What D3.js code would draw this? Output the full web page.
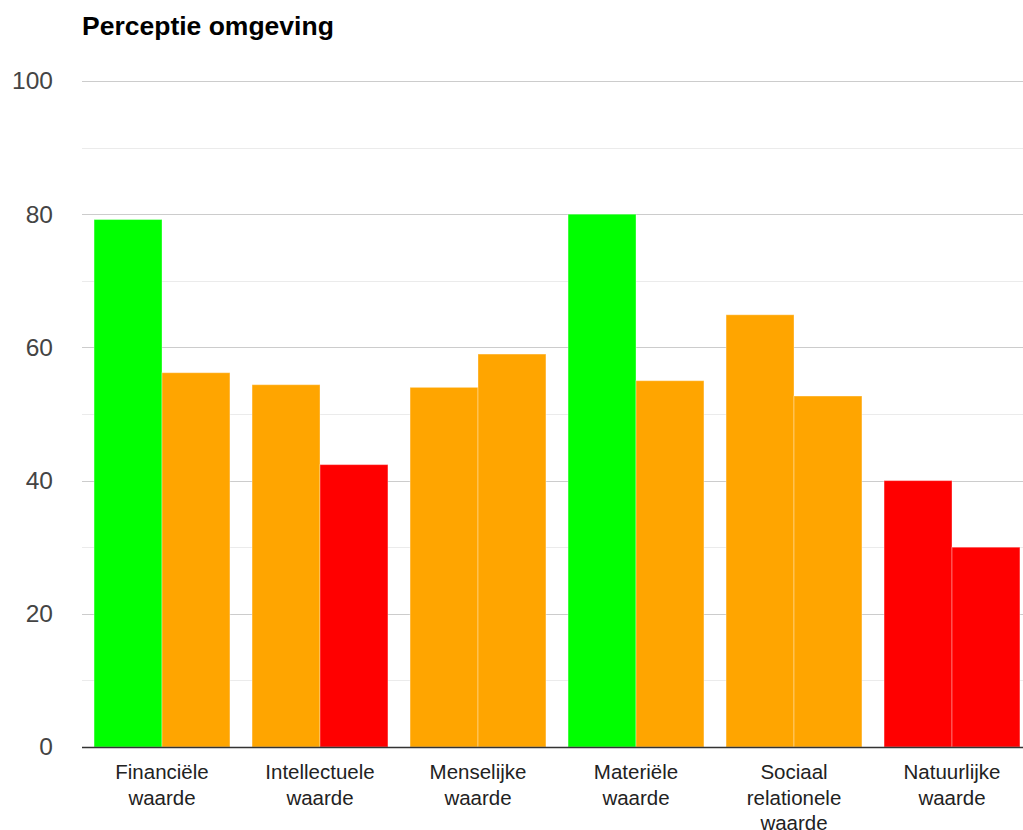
<!DOCTYPE html>
<html>
<head>
<meta charset="utf-8">
<script src="https://cdn.jsdelivr.net/npm/d3@7"></script>
<style>
  body { margin: 0; background: #fff; }
  svg { display: block; font-family: "Liberation Sans", Arial, sans-serif; }
</style>
</head>
<body>
<svg id="chart" width="1023" height="830"></svg>
<script>
const categories = [
  ["Financiële", "waarde"],
  ["Intellectuele", "waarde"],
  ["Menselijke", "waarde"],
  ["Materiële", "waarde"],
  ["Sociaal", "relationele", "waarde"],
  ["Natuurlijke", "waarde"]
];
const seriesA = [79.2, 54.4, 54.0, 80.0, 64.9, 40.0];
const seriesB = [56.2, 42.4, 59.0, 55.0, 52.7, 30.0];
const yTicks = [0, 20, 40, 60, 80, 100];

const width = 1023, height = 830;
const margin = { top: 81, right: -8, bottom: 83, left: 83 };
const innerWidth = width - margin.left - margin.right;
const innerHeight = height - margin.top - margin.bottom;

const svg = d3.select("#chart");

// title
svg.append("text")
  .attr("x", 82)
  .attr("y", 35)
  .attr("font-size", 26.5)
  .attr("font-weight", "bold")
  .attr("fill", "#000")
  .text("Perceptie omgeving");

const g = svg.append("g").attr("transform", `translate(${margin.left},${margin.top})`);

const x0 = d3.scaleBand()
  .domain(d3.range(categories.length))
  .range([0, innerWidth])
  .paddingInner(0.14)
  .paddingOuter(0.07);

const x1 = d3.scaleBand()
  .domain([0, 1])
  .range([0, x0.bandwidth()]);

const y = d3.scaleLinear().domain([0, 100]).range([innerHeight, 0]);

// traffic light colouring by score
const colour = d3.scaleThreshold()
  .domain([50, 70])
  .range(["#ff0000", "#ffa500", "#00ff00"]);

// minor gridlines
g.append("g")
  .selectAll("line")
  .data(d3.range(10, 100, 20))
  .enter()
  .append("line")
  .attr("x1", -1)
  .attr("x2", width - margin.left)
  .attr("y1", d => Math.round(y(d)) + 0.5)
  .attr("y2", d => Math.round(y(d)) + 0.5)
  .attr("stroke", "#ebebeb");

// major gridlines
g.append("g")
  .selectAll("line")
  .data(yTicks.slice(1))
  .enter()
  .append("line")
  .attr("x1", -1)
  .attr("x2", width - margin.left)
  .attr("y1", d => Math.round(y(d)) + 0.5)
  .attr("y2", d => Math.round(y(d)) + 0.5)
  .attr("stroke", "#cccccc");

// y axis labels
g.append("g")
  .attr("transform", "translate(-30,0)")
  .call(d3.axisLeft(y).tickValues(yTicks).tickSize(0).tickPadding(0))
  .call(s => s.select(".domain").remove())
  .call(s => s.selectAll("text")
    .attr("font-size", 24.5)
    .attr("font-family", "Liberation Sans, Arial, sans-serif")
    .attr("fill", "#444"));

// bars
const groups = g.append("g")
  .selectAll("g")
  .data(categories.map((c, i) => [seriesA[i], seriesB[i]]))
  .enter()
  .append("g")
  .attr("transform", (d, i) => `translate(${x0(i)},0)`);

groups.selectAll("rect")
  .data(d => d)
  .enter()
  .append("rect")
  .attr("x", (d, j) => x1(j))
  .attr("y", d => y(d))
  .attr("width", x1.bandwidth())
  .attr("height", d => y(0) - y(d))
  .attr("fill", d => colour(d))
  .attr("stroke", "#fff")
  .attr("stroke-opacity", 0.35)
  .attr("stroke-width", 1);

// baseline
g.append("line")
  .attr("x1", -1)
  .attr("x2", width - margin.left)
  .attr("y1", y(0) + 0.5)
  .attr("y2", y(0) + 0.5)
  .attr("stroke", "#333")
  .attr("stroke-width", 1.5);

// category labels
const labels = g.append("g")
  .selectAll("text")
  .data(categories)
  .enter()
  .append("text")
  .attr("x", (d, i) => x0(i) + x0.bandwidth() / 2)
  .attr("y", innerHeight + 32)
  .attr("text-anchor", "middle")
  .attr("font-size", 20.5)
  .attr("fill", "#222");

labels.selectAll("tspan")
  .data(d => d)
  .enter()
  .append("tspan")
  .attr("x", function () { return this.parentNode.getAttribute("x"); })
  .attr("dy", (d, k) => k === 0 ? 0 : 25.5)
  .text(d => d);
</script>
</body>
</html>
